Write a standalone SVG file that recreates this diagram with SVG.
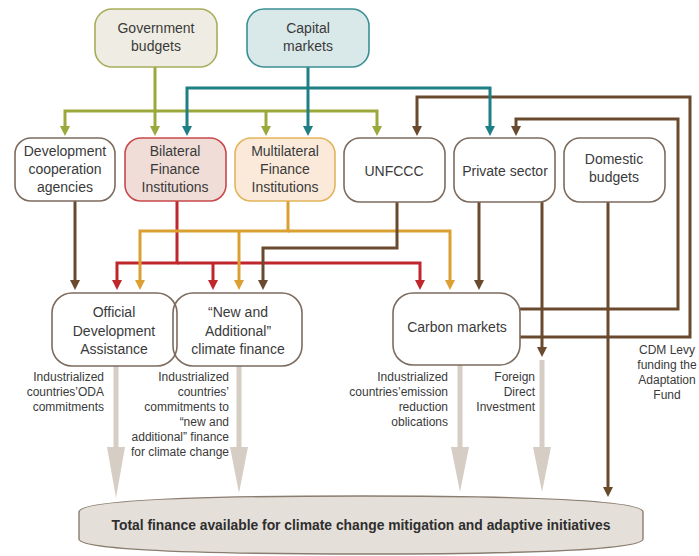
<svg xmlns="http://www.w3.org/2000/svg" width="699" height="556" viewBox="0 0 699 556">
<style>
.t{font-family:"Liberation Sans",Arial,sans-serif;font-size:14px;fill:#3a3a3a;text-anchor:middle}
.l{font-family:"Liberation Sans",Arial,sans-serif;font-size:12px;fill:#3a3a3a;text-anchor:end}
.lc{text-anchor:middle}
.box{stroke-width:1.6}
.c{fill:none;stroke-width:3;stroke-linejoin:miter}
.br{stroke:#694a2e}.ol{stroke:#9aa83c}.te{stroke:#1e7f85}.re{stroke:#c0272d}.or{stroke:#dca032}
.g{fill:#d6cec5}
</style>
<defs>
<marker id="aBr" viewBox="0 0 10 10" refX="2" refY="5" markerWidth="10" markerHeight="10" markerUnits="userSpaceOnUse" orient="auto"><path d="M0,0 L10,5 L0,10 z" fill="#694a2e"/></marker>
<marker id="aOl" viewBox="0 0 10 10" refX="2" refY="5" markerWidth="10" markerHeight="10" markerUnits="userSpaceOnUse" orient="auto"><path d="M0,0 L10,5 L0,10 z" fill="#9aa83c"/></marker>
<marker id="aTe" viewBox="0 0 10 10" refX="2" refY="5" markerWidth="10" markerHeight="10" markerUnits="userSpaceOnUse" orient="auto"><path d="M0,0 L10,5 L0,10 z" fill="#1e7f85"/></marker>
<marker id="aRe" viewBox="0 0 10 10" refX="2" refY="5" markerWidth="10" markerHeight="10" markerUnits="userSpaceOnUse" orient="auto"><path d="M0,0 L10,5 L0,10 z" fill="#c0272d"/></marker>
<marker id="aOr" viewBox="0 0 10 10" refX="2" refY="5" markerWidth="10" markerHeight="10" markerUnits="userSpaceOnUse" orient="auto"><path d="M0,0 L10,5 L0,10 z" fill="#dca032"/></marker>
</defs>

<g id="connectors">
<!-- gray flow arrows -->
<rect class="g" x="113.5" y="366" width="5" height="82"/><polygon class="g" points="107,447 125,447 116,498"/>
<rect class="g" x="236.5" y="366" width="5" height="82"/><polygon class="g" points="230,447 248,447 239,493"/>
<rect class="g" x="457.5" y="365" width="5" height="83"/><polygon class="g" points="451,447 469,447 460,492"/>
<rect class="g" x="539.5" y="360" width="5" height="88"/><polygon class="g" points="533,447 551,447 542,492"/>
<!-- olive -->
<path class="c ol" d="M155,67 V111 H65 V128" marker-end="url(#aOl)"/>
<path class="c ol" d="M155,111 H377 V128" marker-end="url(#aOl)"/>
<path class="c ol" d="M155,111 V128" marker-end="url(#aOl)"/>
<path class="c ol" d="M266,111 V128" marker-end="url(#aOl)"/>
<!-- brown loops from carbon markets -->
<path class="c br" d="M520,337 H690 V97 H417 V128" marker-end="url(#aBr)"/>
<path class="c br" d="M520,309 H678 V119 H516 V128" marker-end="url(#aBr)"/>
<!-- teal -->
<path class="c te" d="M308,67 V128" marker-end="url(#aTe)"/>
<path class="c te" d="M308,88 H187 V128" marker-end="url(#aTe)"/>
<path class="c te" d="M308,88 H490 V128" marker-end="url(#aTe)"/>
<!-- dev coop -->
<path class="c br" d="M75,201 V282" marker-end="url(#aBr)"/>
<!-- red -->
<path class="c re" d="M177,201 V263 H117 V282" marker-end="url(#aRe)"/>
<path class="c re" d="M177,263 H420 V282" marker-end="url(#aRe)"/>
<path class="c re" d="M213,263 V282" marker-end="url(#aRe)"/>
<!-- orange -->
<path class="c or" d="M288,201 V231 H140 V282" marker-end="url(#aOr)"/>
<path class="c or" d="M288,231 H450 V282" marker-end="url(#aOr)"/>
<path class="c or" d="M239,231 V282" marker-end="url(#aOr)"/>
<!-- UNFCCC -->
<path class="c br" d="M397,202 V248 H263 V282" marker-end="url(#aBr)"/>
<!-- private sector -->
<path class="c br" d="M479,202 V282" marker-end="url(#aBr)"/>
<path class="c br" d="M542,202 V349" marker-end="url(#aBr)"/>
<!-- domestic -->
<path class="c br" d="M608,202 V489" marker-end="url(#aBr)"/>
</g>

<g id="gov">
<rect class="box" x="95" y="9" width="122" height="58" rx="17" fill="#efede3" stroke="#a8ad5a"/>
<text class="t" x="156" y="33">Government</text><text class="t" x="156" y="51">budgets</text>
</g>
<g id="capital">
<rect class="box" x="247" y="9" width="122" height="58" rx="17" fill="#d9e8e8" stroke="#3a8f94"/>
<text class="t" x="308" y="33">Capital</text><text class="t" x="308" y="51">markets</text>
</g>

<g id="devcoop">
<rect class="box" x="15" y="138" width="100" height="63" rx="16" fill="#fff" stroke="#7d6b5d"/>
<text class="t" x="65" y="156">Development</text><text class="t" x="65" y="174">cooperation</text><text class="t" x="65" y="192">agencies</text>
</g>
<g id="bilateral">
<rect class="box" x="125" y="138" width="101" height="63" rx="16" fill="#f0ddd7" stroke="#c9484c"/>
<text class="t" x="175" y="156">Bilateral</text><text class="t" x="175" y="174">Finance</text><text class="t" x="175" y="192">Institutions</text>
</g>
<g id="multilateral">
<rect class="box" x="235" y="138" width="100" height="63" rx="16" fill="#fbeada" stroke="#e3b55a"/>
<text class="t" x="285" y="156">Multilateral</text><text class="t" x="285" y="174">Finance</text><text class="t" x="285" y="192">Institutions</text>
</g>
<g id="unfccc">
<rect class="box" x="344" y="138" width="101" height="64" rx="16" fill="#fff" stroke="#7d6b5d"/>
<text class="t" x="394" y="176">UNFCCC</text>
</g>
<g id="private">
<rect class="box" x="454" y="138" width="101" height="64" rx="16" fill="#fff" stroke="#7d6b5d"/>
<text class="t" x="505" y="176">Private sector</text>
</g>
<g id="domestic">
<rect class="box" x="564" y="138" width="101" height="64" rx="16" fill="#fff" stroke="#7d6b5d"/>
<text class="t" x="614" y="164">Domestic</text><text class="t" x="614" y="182">budgets</text>
</g>

<g id="oda">
<rect class="box" x="52" y="293" width="125" height="73" rx="20" fill="#fff" stroke="#7d6b5d"/>
<text class="t" x="114" y="317">Official</text><text class="t" x="114" y="336">Development</text><text class="t" x="114" y="354">Assistance</text>
</g>
<g id="newadd">
<rect class="box" x="173" y="293" width="129" height="73" rx="20" fill="none" stroke="#7d6b5d"/>
<text class="t" x="238" y="317">“New and</text><text class="t" x="238" y="336">Additional”</text><text class="t" x="238" y="354">climate finance</text>
</g>
<g id="carbon">
<rect class="box" x="393" y="293" width="127" height="72" rx="20" fill="#fff" stroke="#7d6b5d"/>
<text class="t" x="457" y="332">Carbon markets</text>
</g>

<g id="labels">
<text class="l" x="104" y="381">Industrialized</text><text class="l" x="104" y="396">countries’ODA</text><text class="l" x="104" y="411">commitments</text>
<text class="l" x="229" y="381">Industrialized</text><text class="l" x="229" y="396">countries’</text><text class="l" x="229" y="411">commitments to</text><text class="l" x="229" y="426">“new and</text><text class="l" x="229" y="441">additional” finance</text><text class="l" x="229" y="456">for climate change</text>
<text class="l" x="448" y="381">Industrialized</text><text class="l" x="448" y="396">countries’emission</text><text class="l" x="448" y="411">reduction</text><text class="l" x="448" y="426">oblications</text>
<text class="l" x="535" y="381">Foreign</text><text class="l" x="535" y="396">Direct</text><text class="l" x="535" y="411">Investment</text>
<text class="l lc" x="667" y="354">CDM Levy</text><text class="l lc" x="667" y="369">funding the</text><text class="l lc" x="667" y="384">Adaptation</text><text class="l lc" x="667" y="399">Fund</text>
</g>

<g id="total">
<path d="M361,496 C560,496 643,502 643,512 L643,539 C643,548 560,554 361,554 C162,554 79,548 79,539 L79,512 C79,502 162,496 361,496 Z" fill="#e4dfd8" stroke="#8a7d70" stroke-width="1.4"/>
<text class="t" x="361" y="530" style="font-weight:bold;font-size:14px;fill:#2e2e2e" textLength="499" lengthAdjust="spacingAndGlyphs">Total finance available for climate change mitigation and adaptive initiatives</text>
</g>
</svg>
